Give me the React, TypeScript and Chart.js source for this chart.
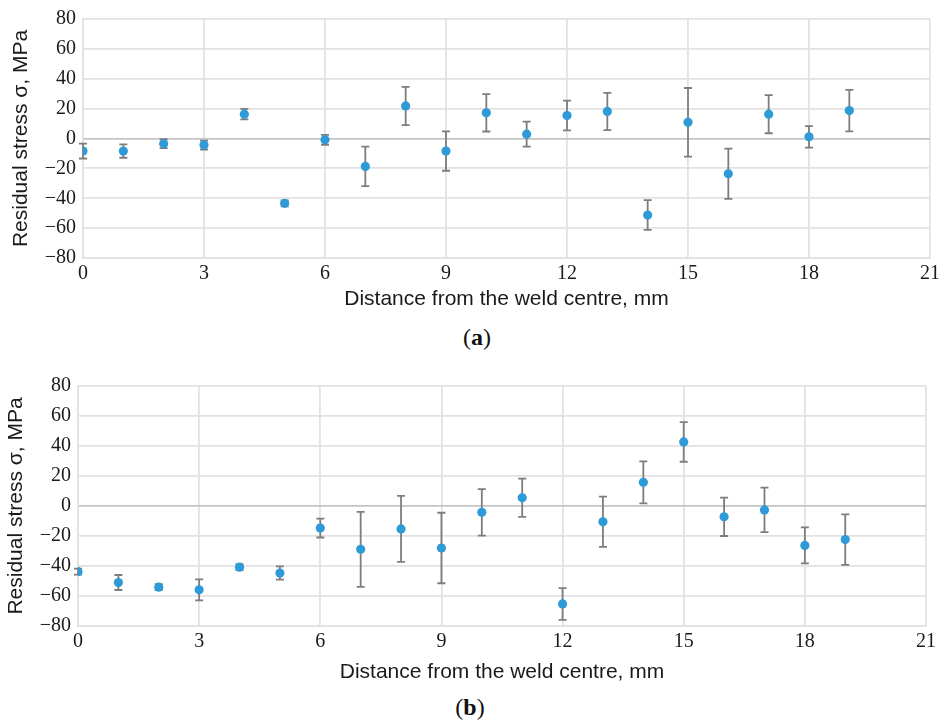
import React, { useEffect, useRef } from "react";
import { Chart, registerables } from "chart.js";

Chart.register(...registerables);

const distances = [0, 1, 2, 3, 4, 5, 6, 7, 8, 9, 10, 11, 12, 13, 14, 15, 16, 17, 18, 19];
const stressA = [-8.4, -8.4, -3.5, -4.4, 16.3, -43.4, -0.9, -18.7, 21.8, -8.4, 17.2, 2.9, 15.4, 18.1, -51.2, 10.8, -23.6, 16.3, 1.1, 18.7];
const errorA = [5, 4.5, 3, 3, 3.5, 2, 3.3, 13.2, 12.8, 13.2, 12.5, 8.4, 10, 12.5, 10, 23, 16.8, 12.8, 7.2, 13.9];
const stressB = [-43.8, -51, -54.1, -55.9, -40.8, -44.7, -14.7, -28.9, -15.3, -28, -4.2, 5.5, -65.3, -10.5, 15.8, 42.7, -7.2, -2.6, -26.3, -22.4];
const errorB = [2, 5, 2, 7, 2, 4.4, 6.3, 25, 22, 23.5, 15.5, 12.8, 10.6, 16.8, 14, 13.2, 12.8, 14.8, 12, 16.8];

const xTitle = "Distance from the weld centre, mm";
const yTitle = "Residual stress \u03c3, MPa";

const SERIF = "Liberation Serif, Times New Roman, Times, serif";
const SANS = "Liberation Sans, Arial, Helvetica, sans-serif";

const errorBarPlugin = {
  id: "errorBars",
  beforeDatasetsDraw(chart: any) {
    const ctx = chart.ctx;
    const yScale = chart.scales.y;
    chart.data.datasets.forEach((ds: any, i: number) => {
      const meta = chart.getDatasetMeta(i);
      const errs: number[] = ds.errors || [];
      ctx.save();
      ctx.strokeStyle = "#7d7d7d";
      ctx.lineWidth = 1.8;
      meta.data.forEach((pt: any, j: number) => {
        const v = ds.data[j].y;
        const e = errs[j] || 0;
        const x = pt.x;
        const yTop = yScale.getPixelForValue(v + e);
        const yBot = yScale.getPixelForValue(v - e);
        ctx.beginPath();
        ctx.moveTo(x, yTop);
        ctx.lineTo(x, yBot);
        ctx.moveTo(x - 4, yTop);
        ctx.lineTo(x + 4, yTop);
        ctx.moveTo(x - 4, yBot);
        ctx.lineTo(x + 4, yBot);
        ctx.stroke();
      });
      ctx.restore();
    });
  },
};

type Cfg = {
  values: number[];
  errors: number[];
  height: number;
  yWidth: number;
  padTop: number;
  padRight: number;
  xHeight: number;
  yTitlePad: number;
  xTitlePad: number;
};

function ScatterPanel(props: Cfg) {
  const ref = useRef<HTMLCanvasElement | null>(null);
  useEffect(() => {
    if (!ref.current) return;
    const chart = new Chart(ref.current, {
      type: "scatter",
      data: {
        datasets: [
          {
            data: distances.map((d, i) => ({ x: d, y: props.values[i] })),
            errors: props.errors,
            backgroundColor: "#2e9ad8",
            borderWidth: 0,
            pointRadius: 4.6,
            pointHoverRadius: 4.6,
          } as any,
        ],
      },
      options: {
        animation: false,
        responsive: false,
        events: [],
        layout: { padding: { top: props.padTop, right: props.padRight, left: 0, bottom: 0 } },
        plugins: { legend: { display: false }, tooltip: { enabled: false } },
        scales: {
          x: {
            type: "linear",
            min: 0,
            max: 21,
            afterFit: (s: any) => {
              s.height = props.xHeight;
            },
            ticks: {
              stepSize: 3,
              padding: 4,
              color: "#1a1a1a",
              font: { family: SERIF, size: 20 },
            },
            grid: { color: "#e2e2e2", lineWidth: 1.8, drawTicks: false },
            border: { color: "#e2e2e2", width: 1.8 },
            title: {
              display: true,
              text: xTitle,
              color: "#1a1a1a",
              font: { family: SANS, size: 21 },
              padding: { top: 0, bottom: props.xTitlePad },
            },
          },
          y: {
            type: "linear",
            min: -80,
            max: 80,
            afterFit: (s: any) => {
              s.width = props.yWidth;
            },
            ticks: {
              stepSize: 20,
              padding: 7,
              color: "#1a1a1a",
              font: { family: SERIF, size: 20 },
              callback: (v: any) => String(v).replace("-", "\u2212"),
            },
            grid: {
              color: (c: any) => (c.tick && c.tick.value === 0 ? "#c4c4c4" : "#e2e2e2"),
              lineWidth: 1.8,
              drawTicks: false,
            },
            border: { color: "#e2e2e2", width: 1.8 },
            title: {
              display: true,
              text: yTitle,
              color: "#1a1a1a",
              font: { family: SANS, size: 21 },
              padding: { top: props.yTitlePad, bottom: 0 },
            },
          },
        },
      } as any,
      plugins: [errorBarPlugin],
    });
    return () => {
      chart.destroy();
    };
  }, []);
  return <canvas ref={ref} width={944} height={props.height} style={{ display: "block" }} />;
}

const captionStyle: React.CSSProperties = {
  position: "absolute",
  width: 944,
  textAlign: "center",
  fontFamily: SERIF,
  fontSize: 24,
  lineHeight: "28px",
  color: "#111",
};

export default function App() {
  return (
    <div style={{ position: "absolute", left: 0, top: 0, width: 944, height: 722, background: "#fff" }}>
      <div style={{ position: "absolute", left: 0, top: 0 }}>
        <ScatterPanel
          values={stressA}
          errors={errorA}
          height={314}
          yWidth={83}
          padTop={16}
          padRight={14}
          xHeight={56}
          yTitlePad={9}
          xTitlePad={2}
        />
      </div>
      <div style={{ ...captionStyle, left: 5, top: 323 }}>
        (<b>a</b>)
      </div>
      <div style={{ position: "absolute", left: 0, top: 367 }}>
        <ScatterPanel
          values={stressB}
          errors={errorB}
          height={320}
          yWidth={78}
          padTop={16}
          padRight={18}
          xHeight={61}
          yTitlePad={4}
          xTitlePad={2}
        />
      </div>
      <div style={{ ...captionStyle, left: -2, top: 693 }}>
        (<b>b</b>)
      </div>
    </div>
  );
}
